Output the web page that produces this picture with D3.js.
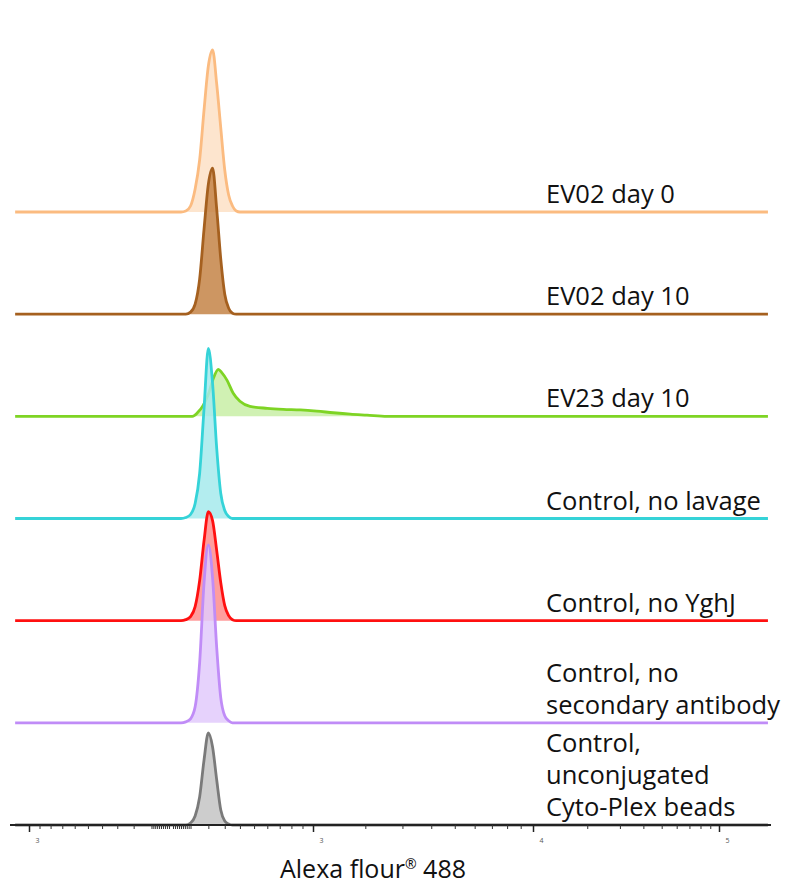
<!DOCTYPE html>
<html>
<head>
<meta charset="utf-8">
<script src="https://cdn.jsdelivr.net/npm/d3@7"></script>
<style>
  body { margin: 0; background: #fff; }
  svg { display: block; font-family: "Open Sans", sans-serif; }
</style>
</head>
<body>
<svg id="chart" width="786" height="886"></svg>
<script>
// samples, top to bottom
const samples = ["EV02 day 0", "EV02 day 10", "EV23 day 10", "Control, no lavage",
                 "Control, no YghJ", "Control, no secondary antibody", "Control, unconjugated Cyto-Plex beads"];
const labelLines = [["EV02 day 0"], ["EV02 day 10"], ["EV23 day 10"], ["Control, no lavage"],
                    ["Control, no YghJ"], ["Control, no", "secondary antibody"],
                    ["Control,", "unconjugated", "Cyto-Plex beads"]];
const strokes = ["#fbbb80", "#a5601f", "#7ed424", "#35d3d8", "#ff1010", "#c08cf7", "#7a7a7a"];
const fills   = ["#fde0c6", "#c48446", "#c8eea6", "#a6eaec", "#ff8c8c", "#e2cafb", "#c4c4c4"];

// Alexa 488 bins (fluorescence) for the narrow peaks
const bins = [50, 75, 100, 125, 150, 175, 200, 225, 250, 275, 300, 325, 350, 375, 400];
const ev02day0   = [0, 5, 30, 115, 260, 510, 730, 810, 640, 420, 210, 85, 30, 5, 0];
const ev02day10  = [0, 0, 10, 50, 175, 425, 650, 730, 525, 275, 100, 30, 5, 0, 0];
const noLavage   = [0, 5, 20, 75, 225, 550, 850, 675, 350, 125, 40, 10, 0, 0, 0];
const noYghJ     = [0, 5, 20, 70, 200, 400, 545, 500, 350, 190, 75, 25, 5, 0, 0];
const noSecond   = [0, 5, 20, 80, 300, 700, 890, 725, 375, 125, 35, 10, 0, 0, 0];
const beadsOnly  = [0, 0, 10, 45, 140, 325, 460, 390, 225, 75, 20, 5, 0, 0, 0];

// EV23 day 10 has a long tail, so its own bins
const ev23Bins  = [110, 140, 170, 200, 230, 260, 280, 315, 355, 400, 470, 600, 730, 880, 1060, 1340, 1670, 2040, 2550];
const ev23day10 = [0, 20, 55, 110, 190, 235, 220, 180, 115, 75, 50, 40, 35, 32, 26, 18, 11, 6, 0];

const seriesX = [bins, bins, ev23Bins, bins, bins, bins, bins];
const seriesY = [ev02day0, ev02day10, ev23day10, noLavage, noYghJ, noSecond, beadsOnly];

const majorTicks = [-1000, 1000, 10000, 100000];
const majorLabels = ["3", "3", "4", "5"];

// ---- layout
const svg = d3.select("#chart");
const xExtent = [-1140, 180000];

// biexponential-like display: symlog, piecewise to match the decades
const x = d3.scaleSymlog().constant(1000)
    .domain([-1000, 0, 1000, 10000, 100000])
    .range([29, 171, 313, 533, 719]);

const row = d3.scalePoint().domain(samples).range([212, 825]);
const h = d3.scaleLinear().domain([0, 1000]).range([0, 200]);

const minorTicks = [];
for (let k = 1; k <= 9; k++) {
    minorTicks.push(-k * 100, -k * 10, k * 10, k * 100);
    if (k > 1) minorTicks.push(k * 1000, k * 10000);
}

// ridges, top first so lower ones sit on top
samples.forEach((name, i) => {
    const pts = [[xExtent[0], 0]].concat(seriesX[i].map((b, j) => [b, seriesY[i][j]]), [[xExtent[1], 0]]);
    const base = row(name);
    const area = d3.area()
        .x(d => x(d[0]))
        .y0(base)
        .y1(d => base - h(d[1]))
        .curve(d3.curveMonotoneX);
    const line = d3.line()
        .x(d => x(d[0]))
        .y(d => base - h(d[1]))
        .curve(d3.curveMonotoneX);

    const g = svg.append("g");
    g.append("path").attr("d", area(pts)).attr("fill", fills[i]).attr("fill-opacity", 0.85);
    g.append("path").attr("d", line(pts)).attr("fill", "none")
        .attr("stroke", strokes[i]).attr("stroke-width", 2.8).attr("stroke-linejoin", "round");

    const t = g.append("text")
        .attr("font-size", "25.5px")
        .attr("fill", "#111");
    const lines = labelLines[i];
    const lh = 32;
    lines.forEach((s, k) => {
        t.append("tspan").attr("x", 546)
            .attr("y", base - 9 - (lines.length - 1 - k) * lh)
            .text(s);
    });
});

// x axis
const axisY = row(samples[samples.length - 1]);
svg.append("line")
    .attr("x1", 10).attr("x2", 771)
    .attr("y1", axisY).attr("y2", axisY)
    .attr("stroke", "#222").attr("stroke-width", 2);

svg.append("g")
    .attr("transform", "translate(0," + axisY + ")")
    .call(d3.axisBottom(x).tickValues(minorTicks).tickSize(4).tickFormat(""))
    .call(g => g.select(".domain").remove())
    .call(g => g.selectAll(".tick line").attr("stroke", "#333").attr("stroke-width", 1));

svg.append("g")
    .attr("transform", "translate(0," + axisY + ")")
    .call(d3.axisBottom(x).tickValues(majorTicks).tickSize(7)
        .tickFormat((d, i) => majorLabels[i]))
    .call(g => g.select(".domain").remove())
    .call(g => g.selectAll(".tick line").attr("stroke", "#222").attr("stroke-width", 1.5))
    .call(g => g.selectAll(".tick text")
        .attr("dx", 8).attr("dy", 8)
        .attr("font-size", "7px").attr("fill", "#555")
        .attr("font-family", "Open Sans, sans-serif"));

const title = svg.append("text")
    .attr("x", 373)
    .attr("y", 878)
    .attr("text-anchor", "middle")
    .attr("font-size", "25px")
    .attr("fill", "#111");
title.append("tspan").text("Alexa flour");
title.append("tspan").attr("font-size", "14px").attr("dy", -9).text("\u00ae");
title.append("tspan").attr("dy", 9).text(" 488");
</script>
</body>
</html>
